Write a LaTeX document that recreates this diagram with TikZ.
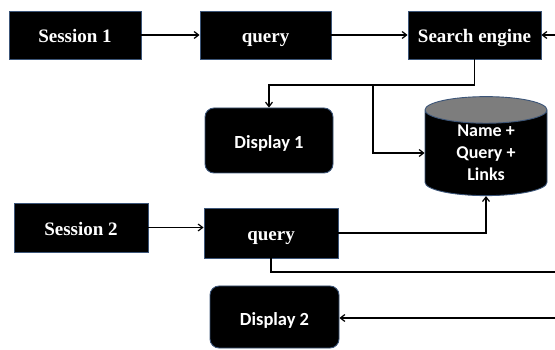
\documentclass[tikz,border=0pt]{standalone}
\usepackage{fontspec}
\setmainfont{Liberation Serif}
\newfontfamily\boxsans{Carlito}
\usetikzlibrary{arrows.meta,positioning,calc,shapes.geometric}
\definecolor{edgeblue}{RGB}{60,85,120}
\definecolor{lidgray}{RGB}{125,125,125}
\tikzset{
  sqbox/.style={draw=edgeblue, line width=0.9pt, fill=black, text=white,
    inner sep=0pt, text height=16pt, text depth=0pt,
    font=\fontsize{19}{22}\selectfont\bfseries},
  rndbox/.style={sqbox, rounded corners=9pt,
    font=\boxsans\fontsize{18.5}{22}\selectfont\bfseries},
  dbshape/.style={cylinder, shape border rotate=90, aspect=0.45,
    draw=edgeblue, line width=0.9pt, cylinder uses custom fill,
    cylinder body fill=black, cylinder end fill=lidgray, text=white,
    align=center, inner sep=0pt,
    font=\boxsans\fontsize{18}{22}\selectfont\bfseries},
  link/.style={-{Straight Barb[length=4.5pt,width=7pt]}, line width=1.2pt},
  wire/.style={line width=1.2pt},
}

\begin{document}
\begin{tikzpicture}[x=1pt, y=-1pt]
    \useasboundingbox (0,0) rectangle (555,350);
    % first session
    \node[sqbox, minimum width=132pt, minimum height=48pt] (sessone) at (75,35)
      {Session 1};
    \node[sqbox, minimum width=131pt, minimum height=48pt] (qryone) at (265.5,35)
      {query};
    \node[sqbox, minimum width=133pt, minimum height=48pt] (engine) at (474.5,35)
      {Search engine};
    \node[rndbox, minimum width=128pt, minimum height=65pt] (dispone) at (269,140.5)
      {Display 1};
    \node[dbshape, minimum width=122pt, minimum height=99pt] (store) at (486,153)
      {Name +\\Query +\\Links};
    % second session
    \node[sqbox, minimum width=134pt, minimum height=49pt] (sesstwo) at (81,227.5)
      {Session 2};
    \node[sqbox, minimum width=134pt, minimum height=50pt] (qrytwo) at (271,233)
      {query};
    \node[rndbox, minimum width=129pt, minimum height=62pt] (disptwo) at (274.5,317)
      {Display 2};
    % loose ends at the right border
    \coordinate (inone) at (555,35);
    \coordinate (outtwo) at (555,272);
    \coordinate (intwo) at (555,318);
    \coordinate (fork) at (373,85);

    \draw[link] (sessone) -- (qryone);
    \draw[link] (qryone) -- (engine);
    \draw[link] (inone) -- (engine);
    \draw[link] (engine.south) |- (fork) -| (dispone.north);
    \draw[link] (fork) |- (store.west);
    \draw[link] (sesstwo.east) -- (sesstwo.east -| qrytwo.west);
    \draw[link] (qrytwo.east) -| (store.south);
    \draw[wire] (qrytwo.south) |- (outtwo);
    \draw[link] (intwo) -- (intwo -| disptwo.east);
  \end{tikzpicture}
\end{document}
